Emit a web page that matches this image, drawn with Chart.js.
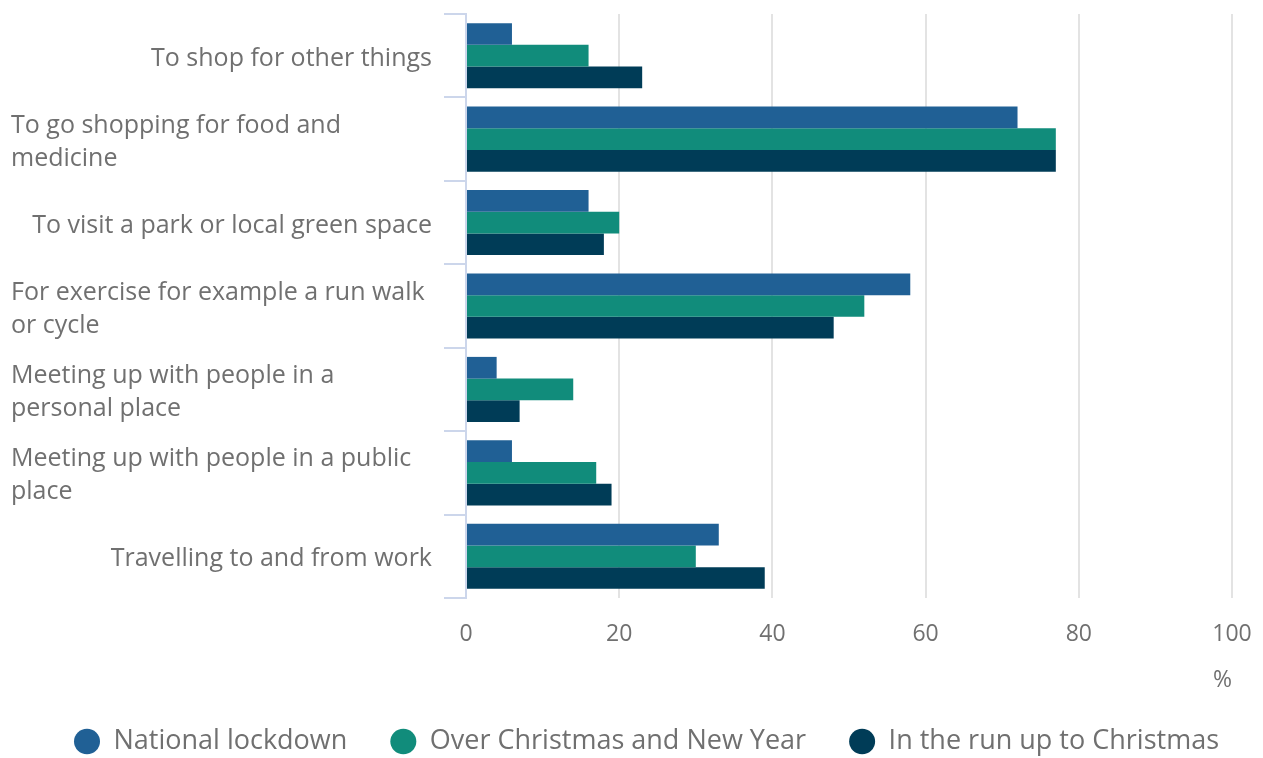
<!DOCTYPE html>
<html>
<head>
    <title>Reasons for leaving home</title>
    <script src="https://cdn.jsdelivr.net/npm/chart.js"></script>
    <style>
        body { margin: 0; background: #fff; overflow: hidden; }
        #wrap { width: 1263px; height: 765px; }
    </style>
</head>
<body>
    <div id="wrap"><canvas id="chart"></canvas></div>
    <script>
        // 数据
        const categories = [
            ['To shop for other things'],
            ['To go shopping for food and', 'medicine'],
            ['To visit a park or local green space'],
            ['For exercise for example a run walk', 'or cycle'],
            ['Meeting up with people in a', 'personal place'],
            ['Meeting up with people in a public', 'place'],
            ['Travelling to and from work']
        ];
        const nationalLockdown = [6, 72, 16, 58, 4, 6, 33];
        const overChristmas = [16, 77, 20, 52, 14, 17, 30];
        const runUpToChristmas = [23, 77, 18, 48, 7, 19, 39];
        const xTicks = [0, 20, 40, 60, 80, 100];

        const textGrey = '#707070';
        const fontFamily = '"Open Sans", "Noto Sans", sans-serif';

        // y轴标签: 单行右对齐, 多行左对齐
        const yLabelPlugin = {
            id: 'yLabels',
            afterDraw(chart) {
                const ctx = chart.ctx;
                const scale = chart.scales.y;
                ctx.save();
                ctx.font = '25px ' + fontFamily;
                ctx.fillStyle = textGrey;
                ctx.textBaseline = 'middle';
                const lineH = 33;
                categories.forEach((lines, i) => {
                    const yc = scale.getPixelForTick(i) + 3;
                    const y0 = yc - (lines.length - 1) * lineH / 2;
                    lines.forEach((t, j) => {
                        if (lines.length > 1) {
                            ctx.textAlign = 'left';
                            ctx.fillText(t, 11, y0 + j * lineH);
                        } else {
                            ctx.textAlign = 'right';
                            ctx.fillText(t, 432, y0 + j * lineH);
                        }
                    });
                });
                ctx.restore();
            }
        };

        const ctx = document.getElementById('chart').getContext('2d');
        const chart = new Chart(ctx, {
            type: 'bar',
            data: {
                labels: categories.map(c => c.join(' ')),
                datasets: [
                    { label: 'National lockdown', data: nationalLockdown, backgroundColor: '#206095' },
                    { label: 'Over Christmas and New Year', data: overChristmas, backgroundColor: '#118c7b' },
                    { label: 'In the run up to Christmas', data: runUpToChristmas, backgroundColor: '#003c57' }
                ]
            },
            options: {
                indexAxis: 'y',
                responsive: true,
                maintainAspectRatio: false,
                animation: false,
                layout: { padding: { top: 14, right: 0, bottom: 0, left: 30 } },
                datasets: {
                    bar: { categoryPercentage: 0.78, barPercentage: 1.0 }
                },
                scales: {
                    y: {
                        offset: true,
                        afterFit(scale) { scale.width = 436; },
                        border: { display: true, color: '#ccd6eb', width: 2 },
                        grid: {
                            offset: true,
                            drawOnChartArea: false,
                            drawTicks: true,
                            tickLength: 22,
                            color: '#ccd6eb',
                            lineWidth: 2
                        },
                        ticks: { display: false }
                    },
                    x: {
                        min: 0,
                        max: 100,
                        afterBuildTicks(scale) {
                            scale.ticks = xTicks.map(v => ({ value: v }));
                        },
                        afterFit(scale) {
                            scale.height = 87;
                            scale.paddingLeft = 0;
                            scale.paddingRight = 31;
                        },
                        border: { display: false },
                        grid: {
                            drawTicks: false,
                            color: ctx => ctx.tick && ctx.tick.value === 0 ? 'rgba(0,0,0,0)' : '#e3e3e3',
                            lineWidth: 2
                        },
                        ticks: {
                            padding: 23,
                            color: textGrey,
                            font: { size: 23, family: fontFamily }
                        },
                        title: {
                            display: true,
                            text: '%',
                            align: 'end',
                            color: textGrey,
                            padding: { top: 0, bottom: -6.5 },
                            font: { size: 23, family: fontFamily, lineHeight: 1 }
                        }
                    }
                },
                plugins: {
                    tooltip: { enabled: false },
                    legend: {
                        position: 'bottom',
                        labels: {
                            usePointStyle: true,
                            pointStyle: 'circle',
                            pointStyleWidth: 26,
                            boxHeight: 18,
                            padding: 43,
                            color: textGrey,
                            font: { size: 27, family: fontFamily }
                        }
                    }
                }
            },
            plugins: [yLabelPlugin]
        });
    </script>
</body>
</html>
